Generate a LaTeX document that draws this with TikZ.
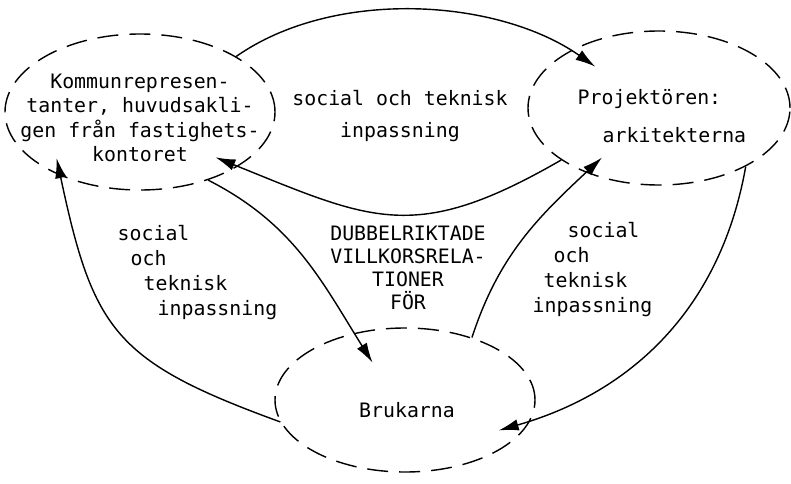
\documentclass[tikz,border=0pt]{standalone}
\usepackage{fontspec}
\setmainfont{DejaVu Sans Mono}
\usepackage{tikz}
\usetikzlibrary{shapes,arrows,arrows.meta,positioning,calc}
\tikzstyle{party} = [ellipse, draw, dash pattern=on 0.42cm off 0.22cm, inner sep=0pt]
\tikzstyle{txt} = [inner sep=0pt, font=\fontsize{11.3}{14.2}\selectfont]

\begin{document}
\begin{tikzpicture}[auto, >={Latex[length=4mm,width=2.3mm]}, line width=0.8pt]
    \useasboundingbox (0,0) rectangle (15.82,9.66);
    \node[party, minimum width=5.4cm, minimum height=3.12cm] (kommun) at (2.80,7.42) {};
    \node[party, minimum width=5.24cm, minimum height=3.08cm] (proj) at (13.18,7.50) {};
    \node[party, minimum width=5.2cm, minimum height=2.88cm] (bruk) at (8.10,1.66) {};

    \node[txt, align=center, font=\fontsize{11.3}{13.8}\selectfont] (kommuntext) at (2.80,7.30) {Kommunrepresen-\\tanter, huvudsakli-\\gen från fastighets-\\kontoret};
    \node[txt, align=left, anchor=west, font=\fontsize{11.3}{21.6}\selectfont] (projtext) at (11.54,7.34) {Projektören:\\\hspace*{0.5cm}arkitekterna};
    \node[txt] (bruktext) at (8.14,1.46) {Brukarna};

    \node[txt, align=center, font=\fontsize{11.3}{18.2}\selectfont] (toplabel) at (8.0,7.34) {social och teknisk\\inpassning};
    \node[txt, align=center, font=\fontsize{11.3}{13.2}\selectfont] (dubbel) at (8.16,4.30) {DUBBELRIKTADE\\VILLKORSRELA-\\TIONER\\FÖR};
    \node[txt, align=left, anchor=west] (leftlabel) at (2.34,4.21) {social\\\hspace*{0.26cm}och\\\hspace*{0.52cm}teknisk\\\hspace*{0.80cm}inpassning};
    \node[txt, align=left, anchor=west] (rightlabel) at (10.64,4.27) {\hspace*{0.70cm}social\\\hspace*{0.42cm}och\\\hspace*{0.22cm}teknisk\\inpassning};

    \draw[->] (kommun.30) to[out=35, in=145, looseness=0.85] ($(proj.center)!0.72!(proj.147)$);
    \draw[->] (proj.208) to[out=210, in=-22, looseness=1.25] ($(kommun.center)!0.8!(kommun.-31)$);
    \draw[->] (bruk.190) to[out=160, in=-78, looseness=1.3] ($(kommun.center)!0.85!(kommun.209)$);
    \draw[->] (kommun.-45) to[out=-27, in=122] ($(bruk.center)!0.57!(bruk.131)$);
    \draw[->] (bruk.43) to[out=72, in=-137] ($(proj.center)!0.77!(proj.221)$);
    \draw[->] (proj.-34) to[out=-100, in=16] ($(bruk.center)!0.83!(bruk.-18)$);
\end{tikzpicture}
\end{document}
